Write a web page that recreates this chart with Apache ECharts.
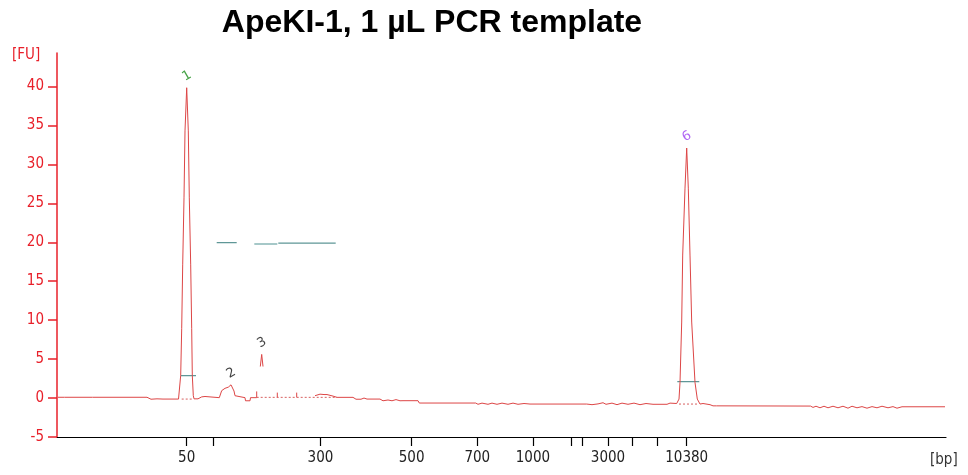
<!DOCTYPE html>
<html>
<head>
<meta charset="utf-8">
<script src="https://cdn.jsdelivr.net/npm/echarts@6/dist/echarts.min.js"></script>
<style>
html,body{margin:0;padding:0;background:#fff;}
#chart{width:968px;height:475px;}
</style>
</head>
<body>
<div id="chart"></div>
<script>
// ---- Data (migration time in s, fluorescence in FU) ----
const titleText = 'ApeKI-1, 1 µL PCR template';

// ladder (bp) tick positions on the time axis
const ladderTime = [32.97, 35.64, 46.35, 55.46, 62.03, 67.59, 71.38, 72.56, 75.10, 77.53, 80.02, 82.97];
const ladderBp   = ['50','100','300','500','700','1000','1500','2000','3000','5000','7000','10380'];
const ladderShown = [true,false,true,true,true,true,false,false,true,false,false,true];

const yTicks = [-5,0,5,10,15,20,25,30,35,40];

// electropherogram trace (null FU = gap in trace)
const traceT = [
  20.1,20.75,20.8,20.85,23.55,23.6,23.65,28.6,28.8,29.0,29.4,29.6,30.0,30.2,30.6,32.15,
  32.23,32.37,32.47,32.57,32.7,32.8,32.97,33.13,33.23,33.37,33.47,33.53,33.63,33.7,33.9,34.1,
  34.47,34.8,34.97,36.23,36.47,36.6,36.8,36.95,37.13,37.3,37.4,37.57,37.7,37.8,37.97,
  38.8,38.85,39.3,39.35,39.97,39.97,40.1,
  40.33,40.47,40.6,40.7,
  42.03,42.03,42.1,
  43.97,43.97,44.1,
  45.8,46.0,46.3,46.5,46.7,47.0,47.2,47.6,48.0,49.6,49.9,50.1,50.4,50.7,51.0,52.3,52.6,53.1,
  53.5,53.9,54.3,54.6,56.1,56.23,61.87,62.1,62.5,63.1,63.5,64.0,64.5,65.1,65.6,66.1,66.7,67.3,
  72.97,73.5,74.1,74.6,74.9,75.5,76.0,76.5,77.1,77.7,78.3,78.9,79.6,81.0,81.3,81.97,82.03,
  82.2,82.3,82.47,82.57,82.8,82.97,83.13,83.3,83.47,83.8,84.03,84.3,84.6,84.8,85.3,85.6,85.7,
  85.96,95.35,95.6,95.9,96.3,96.7,97.1,97.6,98.1,98.6,99.1,99.5,100.0,100.5,101.0,101.5,102.0,
  102.5,103.1,103.6,104.0,104.5,108.8
];
const traceFU = [
  0.1,0.1,0.3,0.1,0.1,0.3,0.1,0.1,-0.1,0.1,-0.15,0.1,-0.1,0.1,-0.13,-0.13,
  0.1,2.9,8.9,17.1,25.7,34.3,39.84,34.3,25.7,17.1,8.9,2.9,0.3,-0.1,0.0,-0.1,
  0.15,0.2,0.05,0.05,0.95,1.1,1.25,1.2,1.4,1.35,1.7,1.6,0.9,0.3,0.05,
  0.05,-0.35,-0.35,0.05,0.05,0.85,null,
  4.05,5.6,4.05,null,
  0.09,0.7,null,
  0.09,0.7,null,
  0.3,0.55,0.5,0.3,0.45,0.45,0.25,0.25,0.09,0.09,-0.15,0.05,-0.15,0.0,-0.13,-0.13,-0.35,-0.25,
  -0.35,-0.2,-0.35,-0.34,-0.34,-0.64,-0.64,-0.8,-0.65,-0.8,-0.65,-0.8,-0.65,-0.8,-0.65,-0.8,-0.7,-0.77,
  -0.77,-0.85,-0.75,-0.6,-0.8,-0.65,-0.85,-0.65,-0.8,-0.65,-0.85,-0.7,-0.8,-0.8,-0.65,-0.7,-0.55,
  -0.13,2.0,9.76,18.36,26.95,32.1,26.95,18.36,9.76,2.0,-0.13,-0.77,-0.7,-0.9,-0.85,-1.0,-0.75,
  -1.0,-1.03,-1.2,-1.05,-1.25,-1.05,-1.25,-1.05,-1.25,-1.05,-1.3,-1.05,-1.25,-1.1,-1.3,-1.1,-1.25,
  -1.05,-1.25,-1.1,-1.3,-1.12,-1.12
];

// region / peak-width markers (start time, end time, FU level)
const markStart = [32.37, 35.97, 42.13, 82.03];
const markEnd   = [33.9, 37.97, 47.87, 84.23];
const markFU    = [2.89, 19.95, 19.9, 2.11];
const markLightStart = [39.73];
const markLightEnd   = [42.03];
const markLightFU    = [19.78];

// dotted baselines under integrated peaks
const baseStart = [32.47, 39.97, 82.2];
const baseEnd   = [33.53, 48.0, 84.03];
const baseFU    = [-0.13, 0.09, -0.77];

// peak labels
const peakNames = ['1','2','3','6'];
const peakT     = [32.97, 37.4, 40.47, 82.97];
const peakFU    = [39.84, 1.7, 5.6, 32.1];
const peakColors = ['#1a8c1a','#111111','#111111','#9b3cf0'];

// ---- Build ----
function segs(s, e, v) {
  const out = [];
  s.forEach((x, i) => { out.push([x, v[i]], [e[i], v[i]], [e[i], null]); });
  return out;
}
const trace = traceT.map((t, i) => [t, traceFU[i]]);
const labelFont = "'DejaVu Sans Condensed','DejaVu Sans',sans-serif";

const chart = echarts.init(document.getElementById('chart'), null, {renderer: 'canvas'});
chart.setOption({
  animation: false,
  backgroundColor: '#ffffff',
  title: {
    text: titleText,
    left: 432, top: 7, textAlign: 'center', padding: 0,
    textStyle: {fontFamily: "'Liberation Sans', Arial, sans-serif", fontWeight: 'bold', fontSize: 32, color: '#000'}
  },
  graphic: [
    {type: 'text', left: 12, top: 48, style: {text: '[FU]', fill: '#e8202a', font: "15px 'DejaVu Sans Condensed','DejaVu Sans',sans-serif"}},
    {type: 'text', left: 930, top: 453, style: {text: '[bp]', fill: '#333', font: "15px 'DejaVu Sans Condensed','DejaVu Sans',sans-serif"}}
  ],
  grid: {left: 57, right: 22, top: 53, bottom: 38},
  xAxis: {
    type: 'value', min: 20, max: 108.9,
    axisLine: {onZero: false, lineStyle: {color: '#000', width: 1.2}},
    axisTick: {show: true, length: 9, customValues: ladderTime, lineStyle: {color: '#000', width: 1.2}},
    axisLabel: {
      customValues: ladderTime.filter((t, i) => ladderShown[i]),
      margin: 14, color: '#222', fontSize: 15, fontFamily: labelFont,
      formatter: function (v) {
        let best = 0;
        ladderTime.forEach((t, i) => { if (Math.abs(t - v) < Math.abs(ladderTime[best] - v)) best = i; });
        return ladderBp[best];
      }
    },
    splitLine: {show: false}
  },
  yAxis: {
    type: 'value', min: -5, max: 44.3,
    axisLine: {show: true, onZero: false, lineStyle: {color: '#e8202a', width: 1.5}},
    axisTick: {show: true, length: 9, customValues: yTicks, lineStyle: {color: '#e8202a', width: 1.5}},
    axisLabel: {customValues: yTicks, margin: 13, color: '#e8202a', fontSize: 15, fontFamily: labelFont},
    splitLine: {show: false}
  },
  series: [
    {
      type: 'line', data: segs(baseStart, baseEnd, baseFU), symbol: 'none', silent: true,
      lineStyle: {color: '#d86060', width: 1, type: [2, 2]}
    },
    {
      type: 'line', data: segs(markStart, markEnd, markFU), symbol: 'none', silent: true,
      lineStyle: {color: '#5f9797', width: 1.2}
    },
    {
      type: 'line', data: segs(markLightStart, markLightEnd, markLightFU), symbol: 'none', silent: true,
      lineStyle: {color: '#a6c8c8', width: 2}
    },
    {
      type: 'line', data: trace, symbol: 'none', silent: true, connectNulls: false,
      lineStyle: {color: '#dd4646', width: 1}
    },
    {
      type: 'scatter', symbolSize: 2, silent: true,
      itemStyle: {color: 'rgba(0,0,0,0)'},
      data: peakT.map((t, i) => ({
        value: [t, peakFU[i]],
        label: {show: true, formatter: peakNames[i], color: peakColors[i]}
      })),
      label: {show: true, position: 'top', distance: 3, rotate: 30, offset: [4, 0], fontSize: 13, fontFamily: "'DejaVu Sans',sans-serif"}
    }
  ]
});
</script>
</body>
</html>
